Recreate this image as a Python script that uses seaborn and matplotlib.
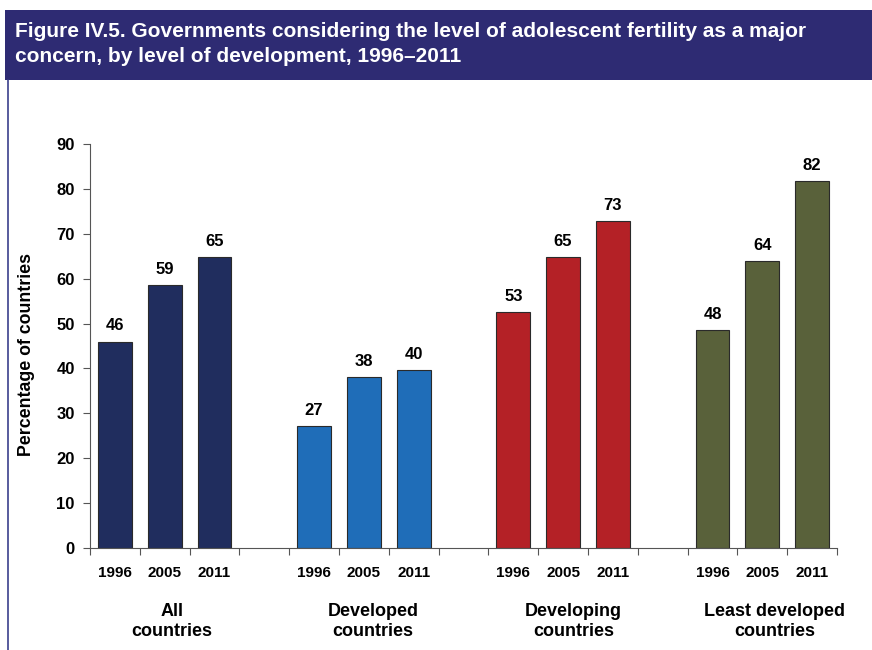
import matplotlib
matplotlib.use("Agg")
import matplotlib.pyplot as plt
import matplotlib.patches as mpatches
import matplotlib.transforms as mtrans
import seaborn as sns
import pandas as pd

groups = ["All\ncountries", "Developed\ncountries", "Developing\ncountries", "Least developed\ncountries"]
years = ["1996", "2005", "2011"]
all_countries = [46.0, 58.6, 64.8]
developed = [27.2, 38.1, 39.6]
developing = [52.6, 64.8, 72.8]
least_developed = [48.5, 63.9, 81.7]
colors = ["#202d5e", "#1f6db8", "#b42126", "#59613a"]
title = "Figure IV.5. Governments considering the level of adolescent fertility as a major\nconcern, by level of development, 1996\u20132011"
ylabel = "Percentage of countries"

series = [all_countries, developed, developing, least_developed]
rows = []
order = []
for gi, (g, vals) in enumerate(zip(groups, series)):
    for y, v in zip(years, vals):
        key = f"{gi}-{y}"
        rows.append({"slot": key, "group": g, "year": y, "value": v})
        order.append(key)
    if gi < len(groups) - 1:
        order.append(f"gap{gi}")
df = pd.DataFrame(rows)

sns.set_theme(style="white")
plt.rcParams["font.family"] = ["Liberation Sans", "DejaVu Sans"]

fig = plt.figure(figsize=(8.72, 6.5), dpi=100)
ax = fig.add_axes([90/872, 1-548/650, (837-90)/872, (548-144)/650])

sns.barplot(data=df, x="slot", y="value", hue="group", order=order,
            hue_order=groups, palette=colors, dodge=False, width=0.68,
            saturation=1, edgecolor="#2a2a2a", linewidth=0.8, legend=False, ax=ax)

ax.set_ylim(0, 90)
ax.set_xlim(-0.5, len(order) - 0.5)
ax.set_yticks(range(0, 91, 10))
ax.tick_params(axis="y", direction="out", length=5, width=0.8, color="#555555",
               labelsize=12, pad=6, left=True, labelcolor="black")
for t in ax.get_yticklabels():
    t.set_fontweight("bold")

# x ticks: boundaries as tick marks, year labels without marks
ax.set_xticks([i - 0.5 for i in range(len(order) + 1)], minor=True)
ax.tick_params(axis="x", which="minor", direction="out", length=5, width=0.8,
               color="#555555", bottom=True)
ax.set_xticks(range(len(order)))
ax.set_xticklabels([k.split("-")[1] if "-" in k else "" for k in order],
                   fontsize=11, fontweight="bold", color="black")
ax.tick_params(axis="x", which="major", length=0, pad=13)

for s in ["top", "right"]:
    ax.spines[s].set_visible(False)
for s in ["left", "bottom"]:
    ax.spines[s].set_color("#555555")
    ax.spines[s].set_linewidth(0.8)

ax.set_xlabel("")
ax.set_ylabel(ylabel, fontsize=12.8, fontweight="bold", color="black")
ax.yaxis.set_label_coords(-0.0736, 0.48)

for c in ax.containers:
    ax.bar_label(c, fmt="%.0f", padding=6, fontsize=12, fontweight="bold", color="black")

trans = mtrans.blended_transform_factory(ax.transData, ax.transAxes)
for gi, g in enumerate(groups):
    center = order.index(f"{gi}-2005") + 0.15 + 0.03 * gi
    ax.text(center, -0.136, g, transform=trans, ha="center", va="top",
            fontsize=13, fontweight="bold", linespacing=1.25, color="black")

# banner
fig.patches.append(mpatches.Rectangle((5/872, 1-80/650), 1, 70/650,
                                      transform=fig.transFigure,
                                      facecolor="#2e2b73", edgecolor="none", zorder=0))
fig.lines.append(plt.Line2D([8/872, 8/872], [0, 1-80/650], transform=fig.transFigure,
                            color="#3b3f8c", linewidth=1.2))
fig.text(15/872, 1-44/650, title, color="white", fontsize=15, fontweight="bold",
         ha="left", va="center", linespacing=1.42)

fig.savefig("out.png", dpi=100)
